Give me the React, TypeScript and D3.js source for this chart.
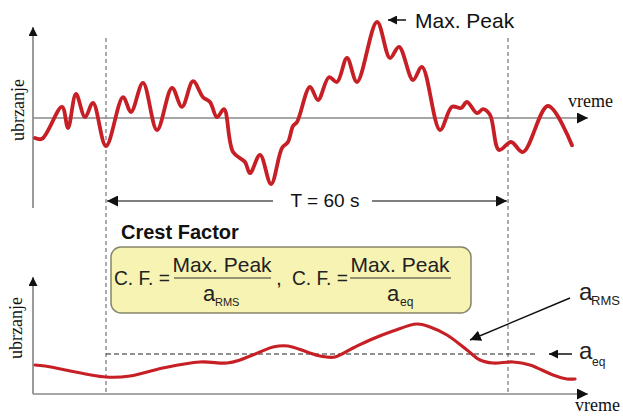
import React from "react";
import * as d3 from "d3";

// Acceleration signal (seconds, arbitrary amplitude units)
const signalTime = [
  -10.6, -9.55, -6.57, -5.67, -4.48, -3.13, -1.94, 0, 2.54, 3.73, 5.52, 7.61, 9.85,
  11.34, 12.99, 14.48, 15.52, 16.57, 17.61, 18.96, 20.75, 21.49, 22.99, 24.63, 26.27,
  27.16, 27.91, 28.51, 30.45, 31.64, 33.28, 34.48, 35.97, 37.46, 40.45, 42.39, 43.73,
  45.82, 47.16, 49.85, 51.64, 52.99, 53.88, 55.37, 56.27, 57.31, 58.66, 60.45, 62.24,
  65.97, 69.55,
];
const signalValue = [
  -0.5, -0.52, 0.28, -0.25, 0.6, 0.02, 0.38, -0.7, 0.52, 0.15, 0.88, -0.3, 0.75,
  0.28, 0.92, 0.52, 0.4, 0.02, 0.22, -0.85, -1.1, -1.38, -0.92, -1.65, -0.75,
  -0.6, -0.2, -0.1, 0.78, 0.45, 1.02, 0.9, 1.5, 0.9, 2.4, 1.5, 1.78,
  0.95, 1.28, -0.3, 0.28, 0.25, 0.4, 0.12, 0.22, 0.08, -0.8, -0.6, -0.85,
  0.3, -0.68,
];

// Running RMS of the signal
const rmsTime = [
  -10.6, -9.1, 0, 3.58, 8.51, 14.03, 18.06, 20.0, 22.99, 24.93, 27.16, 30.0, 31.94,
  34.18, 36.87, 39.4, 42.84, 46.42, 48.36, 50.9, 53.88, 55.82, 57.76, 60.75, 63.28,
  66.72, 68.81, 70.0,
];
const rmsValue = [
  0.725, 0.7, 0.425, 0.45, 0.65, 0.8, 0.775, 0.85, 1.05, 1.175, 1.2, 1.05, 0.95,
  0.925, 1.15, 1.35, 1.575, 1.75, 1.675, 1.475, 1.1, 0.85, 0.775, 0.8, 0.725,
  0.475, 0.375, 0.375,
];

const window = [0, 60]; // T = 60 s
const aEq = 1.0;
const maxPeak = d3.max(signalValue) as number;

const RED = "#c62026";
const SANS = "'Liberation Sans', Arial, sans-serif";
const SERIF = "'Liberation Serif', 'Times New Roman', serif";

export default function App() {
  const x = d3.scaleLinear().domain([0, 60]).range([106, 508]);
  const yTop = d3.scaleLinear().domain([0, 2.4]).range([118, 22]);
  const yBot = d3.scaleLinear().domain([0, 1]).range([394, 354]);

  const topLine = d3
    .line<number>()
    .x((_, i) => x(signalTime[i]))
    .y((d) => yTop(d))
    .curve(d3.curveCatmullRom.alpha(0.5))(signalValue) as string;

  const botLine = d3
    .line<number>()
    .x((_, i) => x(rmsTime[i]))
    .y((d) => yBot(d))
    .curve(d3.curveCatmullRom.alpha(0.5))(rmsValue) as string;

  const peakIdx = signalValue.indexOf(maxPeak);
  const peakX = x(signalTime[peakIdx]);
  const peakY = yTop(maxPeak);

  const x0 = x(window[0]);
  const x1 = x(window[1]);
  const yEq = yBot(aEq);

  return (
    <svg
      width={623}
      height={416}
      viewBox="0 0 623 416"
      style={{ position: "absolute", left: 0, top: 0, background: "#fff" }}
    >
      <defs>
        <marker id="arr" viewBox="0 0 10 10" refX="10" refY="5" markerWidth="9" markerHeight="9" markerUnits="userSpaceOnUse" orient="auto">
          <path d="M0,0 L10,5 L0,10 z" fill="#111" />
        </marker>
        <marker id="arrBig" viewBox="0 0 10 10" refX="10" refY="5" markerWidth="11" markerHeight="11" markerUnits="userSpaceOnUse" orient="auto">
          <path d="M0,0 L10,5 L0,10 z" fill="#111" />
        </marker>
      </defs>

      {/* window boundaries */}
      {[x0, x1].map((xv, i) => (
        <line key={i} x1={xv} x2={xv} y1={38} y2={394} stroke="#888" strokeWidth={1.4} strokeDasharray="4,3" />
      ))}

      {/* top axes */}
      <line x1={33} x2={33} y1={208} y2={27} stroke="#666" strokeWidth={1.3} markerEnd="url(#arr)" />
      <line x1={33} x2={588} y1={yTop(0)} y2={yTop(0)} stroke="#888" strokeWidth={1.3} markerEnd="url(#arrBig)" />
      <text x={568} y={107} fontFamily={SERIF} fontSize={18} fill="#111">vreme</text>
      <text transform="translate(24,110) rotate(-90)" textAnchor="middle" fontFamily={SERIF} fontSize={18} fill="#111">ubrzanje</text>

      <path d={topLine} fill="none" stroke={RED} strokeWidth={3.8} strokeLinejoin="round" strokeLinecap="round" />

      {/* max peak callout */}
      <line x1={peakX + 29} x2={peakX + 11} y1={peakY - 2} y2={peakY - 2} stroke="#111" strokeWidth={1.5} markerEnd="url(#arr)" />
      <text x={415} y={28} fontFamily={SANS} fontSize={21} fill="#111">Max. Peak</text>

      {/* T = 60 s */}
      <line x1={273} x2={x0 + 1} y1={201} y2={201} stroke="#555" strokeWidth={1.3} markerEnd="url(#arrBig)" />
      <line x1={372} x2={x1 - 1} y1={201} y2={201} stroke="#555" strokeWidth={1.3} markerEnd="url(#arrBig)" />
      <text x={325} y={207} textAnchor="middle" fontFamily={SANS} fontSize={19} fill="#111">T = 60 s</text>

      {/* crest factor box */}
      <text x={121} y={239} fontFamily={SANS} fontSize={20} fontWeight="bold" fill="#111">Crest Factor</text>
      <rect x={111} y={247} width={360} height={66} rx={10} fill="#f7f3b2" stroke="#85856a" strokeWidth={1.5} />
      <g fontFamily={SANS} fill="#222">
        <text x={114} y={285} fontSize={21} textLength={56} lengthAdjust="spacingAndGlyphs">C. F. =</text>
        <text x={222} y={272} fontSize={21} textAnchor="middle">Max. Peak</text>
        <line x1={174} x2={271} y1={278} y2={278} stroke="#333" strokeWidth={1.2} />
        <text x={203} y={301} fontSize={22}>a</text>
        <text x={215} y={306} fontSize={11}>RMS</text>
        <text x={276} y={285} fontSize={21}>,</text>
        <text x={292} y={285} fontSize={21} textLength={56} lengthAdjust="spacingAndGlyphs">C. F. =</text>
        <text x={400} y={272} fontSize={21} textAnchor="middle">Max. Peak</text>
        <line x1={350} x2={451} y1={278} y2={278} stroke="#333" strokeWidth={1.2} />
        <text x={387} y={301} fontSize={22}>a</text>
        <text x={400} y={306} fontSize={12}>eq</text>
      </g>

      {/* bottom axes */}
      <line x1={33} x2={33} y1={394} y2={277} stroke="#666" strokeWidth={1.3} markerEnd="url(#arr)" />
      <line x1={33} x2={588} y1={394} y2={394} stroke="#888" strokeWidth={1.3} markerEnd="url(#arrBig)" />
      <text x={575} y={411} fontFamily={SERIF} fontSize={18} fill="#111">vreme</text>
      <text transform="translate(22,328) rotate(-90)" textAnchor="middle" fontFamily={SERIF} fontSize={18} fill="#111">ubrzanje</text>

      {/* equivalent level */}
      <line x1={x0} x2={535} y1={yEq} y2={yEq} stroke="#222" strokeWidth={1.1} strokeDasharray="5,3" />
      <path d={botLine} fill="none" stroke={RED} strokeWidth={3.2} strokeLinejoin="round" strokeLinecap="round" />

      {/* labels with arrows */}
      <line x1={572} x2={549} y1={yEq} y2={yEq} stroke="#111" strokeWidth={1.5} markerEnd="url(#arr)" />
      <text x={579} y={359} fontFamily={SANS} fontSize={24} fill="#222">a</text>
      <text x={592} y={366} fontFamily={SANS} fontSize={12} fill="#222">eq</text>

      <line x1={570} x2={470} y1={298} y2={340} stroke="#111" strokeWidth={1.5} markerEnd="url(#arrBig)" />
      <text x={579} y={300} fontFamily={SANS} fontSize={24} fill="#222">a</text>
      <text x={591} y={305} fontFamily={SANS} fontSize={13} fill="#222">RMS</text>
    </svg>
  );
}
